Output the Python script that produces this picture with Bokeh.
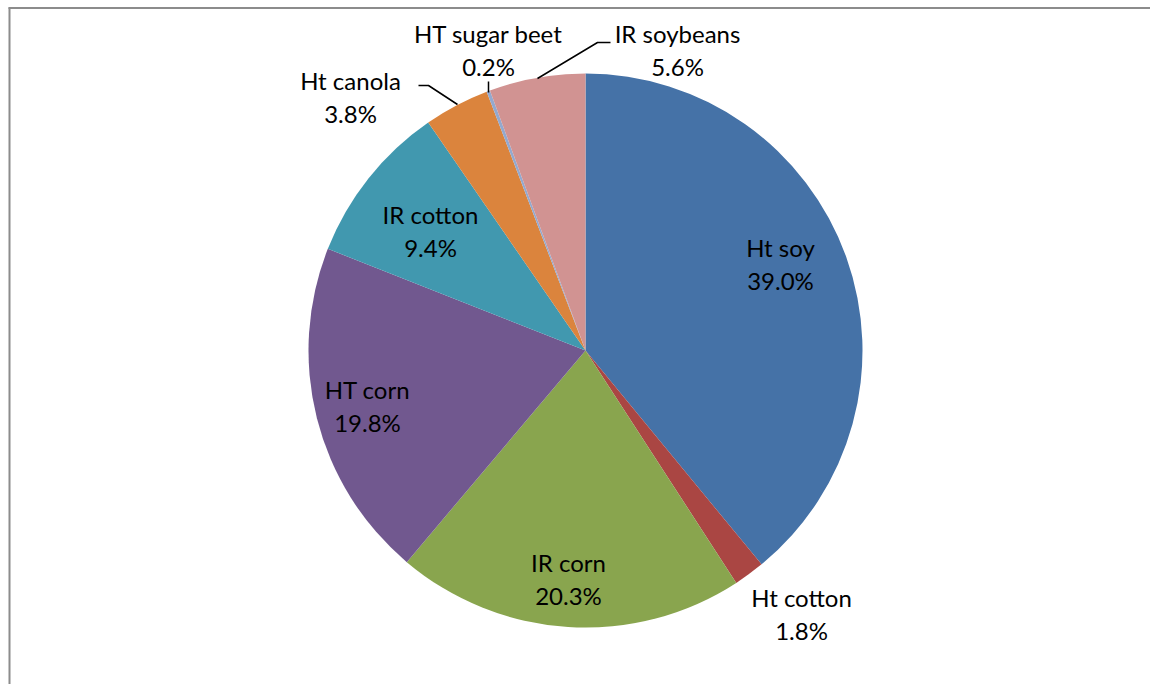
import math
from bokeh.plotting import figure
from bokeh.models import Range1d, ColumnDataSource
from bokeh.core.properties import value
from bokeh.embed import file_html
from bokeh.resources import INLINE

# ---- data ----
categories = ["Ht soy", "Ht cotton", "IR corn", "HT corn", "IR cotton",
              "Ht canola", "HT sugar beet", "IR soybeans"]
shares = [39.0, 1.8, 20.3, 19.8, 9.4, 3.8, 0.2, 5.6]
colors = ["#4572A7", "#AA4643", "#89A54E", "#71588F", "#4198AF",
          "#DB843D", "#93A9CF", "#D19392"]

# ---- layout (page pixel coordinates) ----
OX, OY = 0, 0          # where the figure lands on the page
W, H = 1150, 684
CX, CY, R = 585, 350, 277
# label centres (x, y of first line) in page pixels
label_pos = [(780, 247), (801, 597), (568, 562), (367, 389), (430, 214),
             (350, 80), (488, 33), (677, 33)]
LINE_GAP = 33
FONT = "Lato"
FSIZE = "24px"

def Y(py):
    return (OY + H) - py

p = figure(width=W, height=H, output_backend="svg", toolbar_location=None,
           x_range=Range1d(OX, OX + W), y_range=Range1d(Y(OY + H), Y(OY)),
           min_border=0, outline_line_color=None)
p.axis.visible = False
p.grid.visible = False
p.background_fill_color = "white"
p.border_fill_color = "white"

total = sum(shares)
starts, ends = [], []
acc = 0.0
for v in shares:
    starts.append(math.pi / 2 - 2 * math.pi * acc / total)
    acc += v
    ends.append(math.pi / 2 - 2 * math.pi * acc / total)

src = ColumnDataSource(dict(start=starts, end=ends, color=colors, name=categories))
p.wedge(x=CX, y=Y(CY), radius=R, start_angle="start", end_angle="end",
        direction="clock", fill_color="color", line_color=None, source=src)

# leader lines (page pixels)
leaders = [
    ([418, 428, 457], [85, 85, 104]),   # Ht canola
    ([488, 488], [81, 92]),             # HT sugar beet
    ([610, 597, 537], [42, 42, 78]),    # IR soybeans
]
for xs, ys in leaders:
    p.line(xs, [Y(y) for y in ys], line_color="black", line_width=1.5)

names_x = [lp[0] for lp in label_pos]
names_y = [Y(lp[1]) for lp in label_pos]
pct_y = [Y(lp[1] + LINE_GAP) for lp in label_pos]
pct_txt = [f"{v:.1f}%" for v in shares]

p.text(x=names_x, y=names_y, text=categories, text_font=value(FONT),
       text_font_size=FSIZE, text_align="center", text_baseline="middle",
       text_color="black")
p.text(x=names_x, y=pct_y, text=pct_txt, text_font=value(FONT),
       text_font_size=FSIZE, text_align="center", text_baseline="middle",
       text_color="black")

# chart-area border (only left and top are visible in the window)
p.segment(x0=[9, 8], y0=[Y(7), Y(7.5)], x1=[9, OX + W], y1=[Y(OY + H), Y(7.5)],
          line_color="#8c8c8c", line_width=2)

open("out.html", "w").write(file_html(p, INLINE))
